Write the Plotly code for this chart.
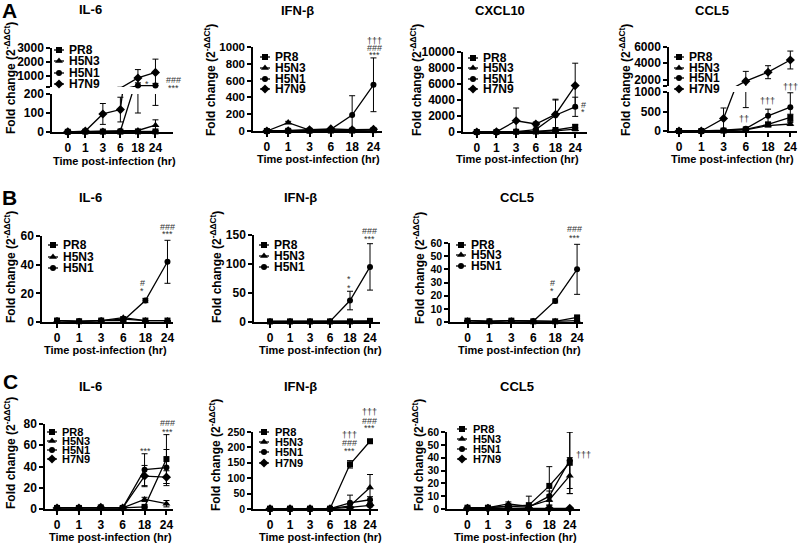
import plotly.graph_objects as go

W, H = 800, 543
FONT = "Liberation Sans, Arial, sans-serif"

TIMES = ["0", "1", "3", "6", "18", "24"]

# ---------------- data (mean fold change, SD) ----------------
# Panel A
A_IL6 = {"PR8": [1, 2, 2, 2, 3, 3], "H5N3": [1, 3, 5, 5, 8, 36],
         "H5N1": [1, 3, 3, 5, 300, 300], "H7N9": [1, 5, 95, 118, 850, 1250]}
A_IL6_SD = {"PR8": [0, 0, 0, 0, 1, 2], "H5N3": [0, 1, 2, 2, 3, 28],
            "H5N1": [0, 1, 1, 2, 200, 160], "H7N9": [0, 2, 55, 65, 600, 950]}

A_IFNB = {"PR8": [0, 2, 3, 5, 5, 10], "H5N3": [0, 100, 10, 8, 10, 15],
          "H5N1": [0, 2, 10, 20, 190, 550], "H7N9": [0, 3, 15, 25, 15, 20]}
A_IFNB_SD = {"PR8": [0, 0, 1, 2, 2, 4], "H5N3": [0, 15, 4, 3, 4, 5],
             "H5N1": [0, 0, 5, 8, 230, 320], "H7N9": [0, 1, 5, 8, 5, 6]}

A_CXCL10 = {"PR8": [0, 5, 30, 60, 250, 650], "H5N3": [0, 5, 20, 40, 150, 350],
            "H5N1": [0, 10, 50, 300, 2100, 3150], "H7N9": [0, 20, 1400, 1000, 2200, 5800]}
A_CXCL10_SD = {"PR8": [0, 0, 10, 20, 80, 250], "H5N3": [0, 0, 10, 15, 60, 200],
               "H5N1": [0, 0, 20, 100, 1900, 1200], "H7N9": [0, 5, 1600, 250, 1900, 2800]}

A_CCL5 = {"PR8": [0, 0, 10, 40, 170, 350], "H5N3": [0, 0, 8, 30, 140, 180],
          "H5N1": [0, 0, 20, 60, 390, 610], "H7N9": [0, 0, 320, 1800, 2900, 4400]}
A_CCL5_SD = {"PR8": [0, 0, 5, 10, 40, 80], "H5N3": [0, 0, 5, 10, 30, 40],
             "H5N1": [0, 0, 10, 20, 170, 370], "H7N9": [0, 0, 270, 1200, 800, 1100]}

# Panel B
B_IL6 = {"PR8": [1, 0.5, 1, 2, 1, 1], "H5N3": [1, 0.5, 1, 3, 1, 1],
         "H5N1": [1, 0.5, 1, 1, 15, 42]}
B_IL6_SD = {"PR8": [0, 0, 0, 0.3, 0, 0], "H5N3": [0, 0, 0, 0.5, 0, 0],
            "H5N1": [0.2, 0.1, 0.3, 0.5, 1.5, 15]}

B_IFNB = {"PR8": [1, 1, 1, 1, 1, 2], "H5N3": [1, 1, 1, 1, 1, 1],
          "H5N1": [1, 1, 1, 1, 37, 95]}
B_IFNB_SD = {"PR8": [0, 0, 0, 0, 0, 0.5], "H5N3": [0, 0, 0, 0, 0, 0],
             "H5N1": [0, 0, 0, 0, 16, 40]}

B_CCL5 = {"PR8": [1, 0.5, 1, 0.5, 0.5, 3.5], "H5N3": [1, 0.5, 1, 0.5, 0.5, 1],
          "H5N1": [1, 0.5, 1, 0.5, 16, 40]}
B_CCL5_SD = {"PR8": [0, 0, 0, 0, 0, 1], "H5N3": [0, 0, 0, 0, 0, 0],
             "H5N1": [0, 0, 0, 0, 1.5, 19]}

# Panel C
C_IL6 = {"PR8": [1, 1, 1.5, 1, 2, 47], "H5N3": [1, 1, 1, 1, 9, 5],
         "H5N1": [1, 1, 1.5, 1, 37, 39], "H7N9": [1, 1, 1.5, 1, 31, 30]}
C_IL6_SD = {"PR8": [0, 0, 0.3, 0.3, 0.5, 23], "H5N3": [0, 0, 0, 0, 2, 3],
            "H5N1": [0, 0, 0, 0, 15, 17], "H7N9": [0, 0, 0, 0, 10, 6]}

C_IFNB = {"PR8": [1, 1, 1, 1, 145, 220], "H5N3": [1, 1, 1, 1, 10, 70],
          "H5N1": [1, 1, 1, 1, 20, 30], "H7N9": [1, 1, 1, 1, 5, 12]}
C_IFNB_SD = {"PR8": [0, 0, 0, 0, 12, 6], "H5N3": [0, 0, 0, 0, 5, 42],
             "H5N1": [0, 0, 0, 0, 25, 10], "H7N9": [0, 0, 0, 0, 3, 5]}

C_CCL5 = {"PR8": [1, 1, 2, 3, 18, 36], "H5N3": [1, 1, 4, 2, 7, 26],
          "H5N1": [1, 1, 2, 1.5, 10, 38], "H7N9": [0.5, 0.5, 0.5, 0.5, 0.5, 0.5]}
C_CCL5_SD = {"PR8": [0, 0, 1, 7, 15, 24], "H5N3": [0, 0, 1.5, 1, 4, 14],
             "H5N1": [0, 0, 1, 1, 4, 22], "H7N9": [0, 0, 0, 0, 0, 0]}

SYMBOLS = {"PR8": "square", "H5N3": "triangle-up", "H5N1": "circle", "H7N9": "diamond"}
SIZES = {"PR8": 6, "H5N3": 7, "H5N1": 6, "H7N9": 7}

# ---------------- layout spec (pixel positions) ----------------
PANELS = [
    dict(data=A_IL6, sd=A_IL6_SD, title="IL-6", t=(90, 10), x=(52, 173), xr=(-0.9, 6.0),
         y=(94, 132), yr=(0, 200), yt=[0, 100, 200], tf=12,
         up=dict(y=(48, 87), yr=(200, 3000), yt=[200, 1000, 2000, 3000]),
         yttl=(10, 78), xttl=(115, 161), leg=(59, 67, [50, 61, 73, 84], 12),
         sig=[("*", 147, 84), ("###", 173, 80), ("***", 173, 88)]),
    dict(data=A_IFNB, sd=A_IFNB_SD, title="IFN-β", t=(297, 11), x=(253, 382), xr=(-0.65, 5.4),
         y=(47, 131), yr=(0, 1000), yt=[0, 200, 400, 600, 800, 1000], tf=11.5,
         yttl=(210, 80), xttl=(318, 159), leg=(265, 273, [57, 68, 79, 89], 12),
         sig=[("†††", 374, 41), ("###", 374, 48), ("***", 374, 55)]),
    dict(data=A_CXCL10, sd=A_CXCL10_SD, title="CXCL10", t=(500, 11), x=(463, 587), xr=(-0.7, 5.6),
         y=(52, 132), yr=(0, 10000), yt=[0, 2000, 4000, 6000, 8000, 10000], tf=12,
         yttl=(416, 80), xttl=(517, 159), leg=(473, 481, [58, 68, 79, 89], 12),
         sig=[("#", 583, 105), ("*", 583, 112)]),
    dict(data=A_CCL5, sd=A_CCL5_SD, title="CCL5", t=(712, 11), x=(669, 797), xr=(-0.45, 5.3),
         y=(92, 131), yr=(0, 1000), yt=[0, 500, 1000], tf=12,
         up=dict(y=(47, 86), yr=(1200, 6000), yt=[1200, 2000, 4000, 6000]),
         yttl=(625, 80), xttl=(732, 159), leg=(679, 687, [57, 68, 78, 89], 12),
         sig=[("††", 744, 119), ("†††", 767, 101), ("†††", 790, 87)]),
    dict(data=B_IL6, sd=B_IL6_SD, title="IL-6", t=(90, 198), x=(42, 173), xr=(-0.68, 5.25),
         y=(236, 322), yr=(0, 60), yt=[0, 20, 40, 60], tf=12,
         yttl=(10, 267), xttl=(105, 350), leg=(53, 61, [245, 257, 268], 12),
         sig=[("#", 142, 283), ("*", 142, 291), ("###", 167, 227), ("***", 167, 234)]),
    dict(data=B_IFNB, sd=B_IFNB_SD, title="IFN-β", t=(300, 198), x=(254, 380), xr=(-0.8, 5.5),
         y=(235, 322), yr=(0, 150), yt=[0, 50, 100, 150], tf=12,
         yttl=(216, 267), xttl=(320, 350), leg=(264, 272, [245, 256, 267], 12),
         sig=[("*", 349, 279), ("*", 349, 288), ("###", 369, 231), ("***", 369, 239)]),
    dict(data=B_CCL5, sd=B_CCL5_SD, title="CCL5", t=(517, 198), x=(450, 583), xr=(-0.8, 5.27),
         y=(243, 322), yr=(0, 60), yt=[0, 10, 20, 30, 40, 50, 60], tf=10.5,
         yttl=(419, 268), xttl=(519, 350), leg=(461, 469, [245, 255, 266], 12),
         sig=[("#", 552, 283), ("*", 552, 291), ("###", 574, 229), ("***", 574, 238)]),
    dict(data=C_IL6, sd=C_IL6_SD, title="IL-6", t=(90, 386), x=(45, 173), xr=(-0.55, 5.3),
         y=(424, 509), yr=(0, 80), yt=[0, 20, 40, 60, 80], tf=12,
         yttl=(10, 453), xttl=(110, 537), leg=(52, 60, [432, 441, 450, 459], 11),
         sig=[("***", 145, 451), ("###", 167, 423), ("***", 167, 432)]),
    dict(data=C_IFNB, sd=C_IFNB_SD, title="IFN-β", t=(300, 386), x=(253, 378), xr=(-0.85, 5.4),
         y=(432, 509), yr=(0, 250), yt=[0, 50, 100, 150, 200, 250], tf=10.5,
         yttl=(215, 455), xttl=(320, 537), leg=(264, 273, [432, 442, 452, 463], 11),
         sig=[("†††", 349, 435), ("###", 349, 443), ("***", 349, 451),
              ("†††", 369, 412), ("###", 369, 421), ("***", 369, 428)]),
    dict(data=C_CCL5, sd=C_CCL5_SD, title="CCL5", t=(517, 386), x=(447, 580), xr=(-1.0, 5.5),
         y=(432, 509), yr=(0, 60), yt=[0, 10, 20, 30, 40, 50, 60], tf=10.5,
         yttl=(418, 455), xttl=(515, 537), leg=(462, 471, [429, 439, 449, 459], 11),
         sig=[("†††", 583, 455)]),
]
LETTERS = [("A", 9, 11), ("B", 9, 197), ("C", 10, 381)]


def dom_x(a, b):
    return [a / W, b / W]


def dom_y(top, bottom):
    return [1 - bottom / H, 1 - top / H]


def text(s, x, y, size, color="black", weight="bold", xanchor="center", **kw):
    return dict(text=s, x=x / W, y=1 - y / H, xref="paper", yref="paper",
                xanchor=xanchor, yanchor="middle", showarrow=False,
                font=dict(family=FONT, size=size, color=color, weight=weight), **kw)


def axis_style(tick_size):
    return dict(showline=True, linecolor="black", linewidth=1.5, ticks="outside", ticklen=4,
                tickwidth=1.5, tickcolor="black", showgrid=False, zeroline=False,
                tickfont=dict(family=FONT, size=tick_size, color="black", weight="bold"),
                fixedrange=True)


fig = go.Figure()
layout = {}
annotations = []
nx = 0
ny = 0

for p in PANELS:
    nx += 1
    ny += 1
    xid, yid = f"x{nx}", f"y{ny}"
    layout[f"xaxis{nx}"] = dict(axis_style(12), domain=dom_x(*p["x"]), range=list(p["xr"]),
                                type="category", categoryorder="array", categoryarray=TIMES,
                                anchor=yid)
    segments = [(yid, p["yr"])]
    layout[f"yaxis{ny}"] = dict(axis_style(p["tf"]), domain=dom_y(*p["y"]), range=list(p["yr"]),
                                tickvals=p["yt"], tickformat="d", anchor=xid)
    if "up" in p:
        ny += 1
        up = p["up"]
        # the bottom tick of the upper segment closes the axis break, so it has no label
        labels = [""] + [str(v) for v in up["yt"][1:]]
        layout[f"yaxis{ny}"] = dict(axis_style(p["tf"]), domain=dom_y(*up["y"]), range=list(up["yr"]),
                                    tickmode="array", tickvals=up["yt"], ticktext=labels, anchor=xid)
        segments.append((f"y{ny}", up["yr"]))

    for seg_i, (sy, yr) in enumerate(segments):
        lo, hi = yr
        for strain, vals in p["data"].items():
            fig.add_trace(go.Scatter(
                x=TIMES, y=vals, mode="lines", xaxis=xid, yaxis=sy,
                line=dict(color="black", width=1.3),
                error_y=dict(type="data", array=p["sd"][strain], color="black", thickness=1, width=3),
                showlegend=False, hoverinfo="skip"))
            inside = [v if (lo <= v <= hi and (seg_i == 0 or v > lo)) else None for v in vals]
            fig.add_trace(go.Scatter(
                x=TIMES, y=inside, mode="markers", xaxis=xid, yaxis=sy, cliponaxis=False,
                marker=dict(symbol=SYMBOLS[strain], size=SIZES[strain], color="black"),
                showlegend=False, hoverinfo="skip"))

    annotations.append(text(p["title"], p["t"][0], p["t"][1], 13))
    annotations.append(text("Fold change (2<sup>-ΔΔCt</sup>)", p["yttl"][0], p["yttl"][1], 12,
                            textangle=-90))
    annotations.append(text("Time post-infection (hr)", p["xttl"][0], p["xttl"][1], 11))
    for s, sx, sy_ in p["sig"]:
        annotations.append(text(s, sx, sy_, 9, color="#333", weight="normal"))

# overlay pixel-space axes for the hand-placed legends
nx += 1
ny += 1
ox, oy = f"x{nx}", f"y{ny}"
layout[f"xaxis{nx}"] = dict(domain=[0, 1], range=[0, W], visible=False, fixedrange=True, anchor=oy)
layout[f"yaxis{ny}"] = dict(domain=[0, 1], range=[H, 0], visible=False, fixedrange=True, anchor=ox)

for p in PANELS:
    mx, tx, rows, fs = p["leg"]
    for strain, ry in zip(p["data"].keys(), rows):
        fig.add_trace(go.Scatter(
            x=[mx - 5, mx + 5], y=[ry, ry], mode="lines", xaxis=ox, yaxis=oy,
            line=dict(color="black", width=1.3), cliponaxis=False,
            showlegend=False, hoverinfo="skip"))
        fig.add_trace(go.Scatter(
            x=[mx], y=[ry], mode="markers", xaxis=ox, yaxis=oy, cliponaxis=False,
            marker=dict(symbol=SYMBOLS[strain], size=SIZES[strain], color="black"),
            showlegend=False, hoverinfo="skip"))
        annotations.append(text(strain, tx, ry, fs, xanchor="left"))

for s, lx, ly in LETTERS:
    annotations.append(text(s, lx, ly, 21))

fig.update_layout(
    template="none",
    width=W,
    height=H,
    margin=dict(l=0, r=0, t=0, b=0),
    paper_bgcolor="white",
    plot_bgcolor="rgba(0,0,0,0)",
    showlegend=False,
    annotations=annotations,
    **layout,
)

fig.write_html("out.html", config={"displayModeBar": False},
               post_script="document.body.style.margin='0';")
